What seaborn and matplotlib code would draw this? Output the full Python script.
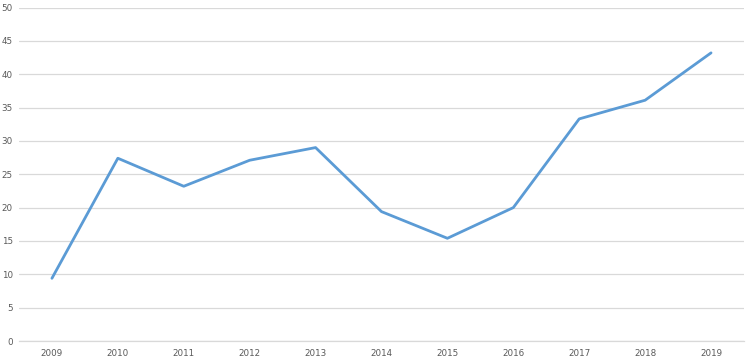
import pandas as pd
import matplotlib
matplotlib.use("Agg")
import matplotlib.pyplot as plt
import seaborn as sns

years = ["2009", "2010", "2011", "2012", "2013", "2014", "2015", "2016", "2017", "2018", "2019"]
values = [9.4, 27.4, 23.2, 27.1, 29.0, 19.4, 15.4, 20.0, 33.3, 36.1, 43.2]

df = pd.DataFrame({"year": years, "value": values})

sns.set_theme(style="white")
plt.rcParams["font.family"] = ["DejaVu Sans"]

fig = plt.figure(figsize=(7.5, 3.59), dpi=100)
ax = fig.add_axes([0.0253, 0.0501, 0.9667, 0.929])

sns.lineplot(data=df, x="year", y="value", ax=ax, color="#5B9BD5", linewidth=2.0, sort=False)

ax.set_xlim(-0.5, len(years) - 0.5)
ax.set_ylim(0, 50)
ax.set_yticks(range(0, 51, 5))
ax.yaxis.grid(True, color="#d9d9d9", linewidth=0.9)
ax.set_axisbelow(True)
ax.set_xlabel("")
ax.set_ylabel("")
for s in ["top", "right", "left"]:
    ax.spines[s].set_visible(False)
ax.spines["bottom"].set_color("#d9d9d9")
ax.spines["bottom"].set_linewidth(0.9)
ax.tick_params(axis="both", length=0, labelsize=6.3, colors="#595959")
ax.tick_params(axis="y", pad=4.5)
ax.tick_params(axis="x", pad=6)

fig.savefig("out.png", dpi=100)
